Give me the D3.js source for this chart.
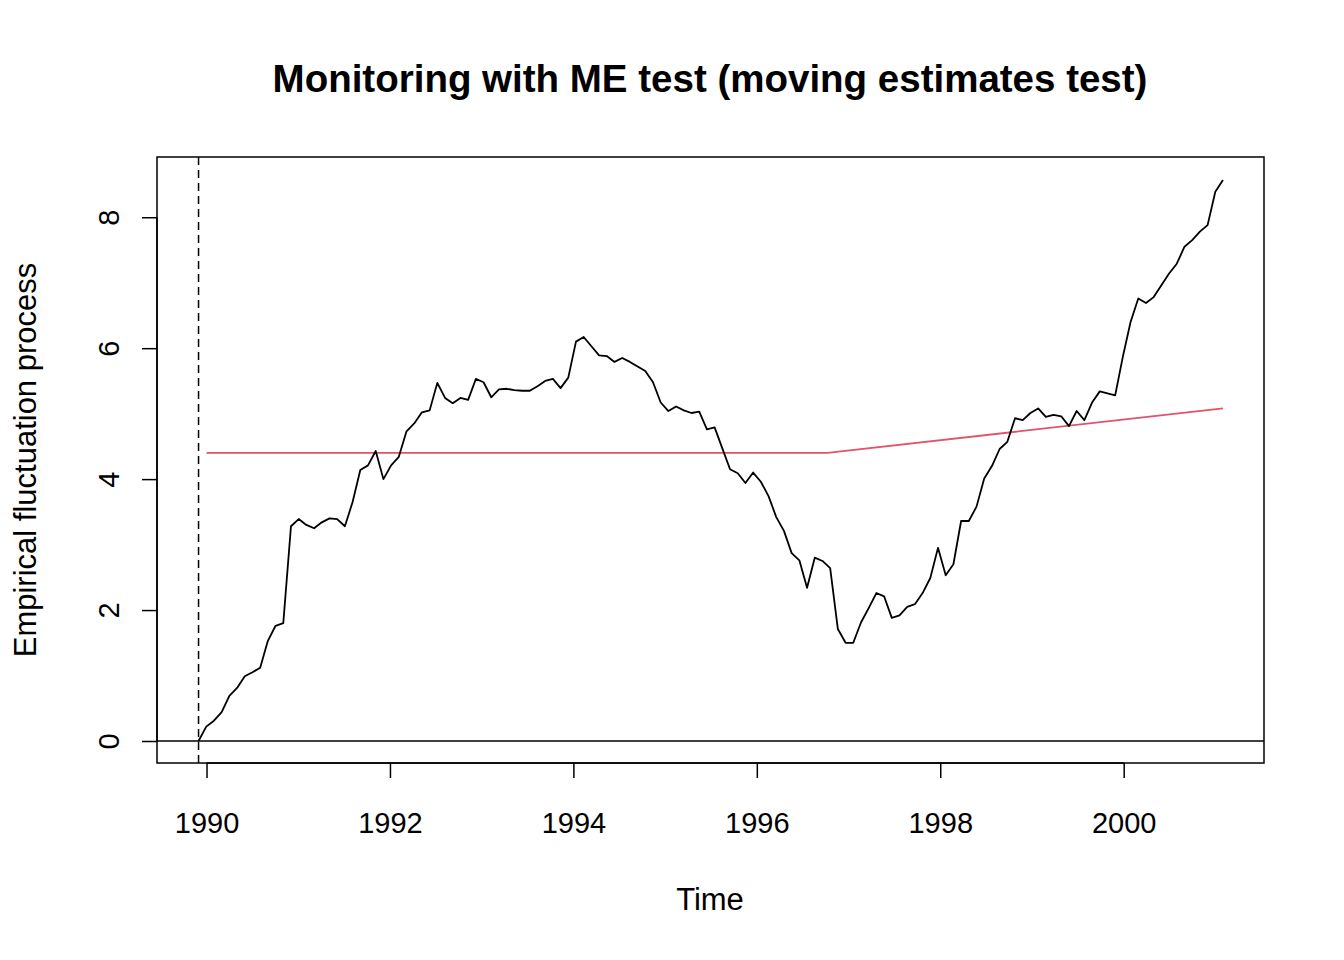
<!DOCTYPE html>
<html><head><meta charset="utf-8">
<script src="https://cdn.jsdelivr.net/npm/d3@7"></script>
<style>body{margin:0;background:#fff}text{font-family:"Liberation Sans",Arial,sans-serif}</style>
</head><body><svg id="c" width="1344" height="960"></svg>
<script>
// empirical fluctuation process, 134 observations from the monitoring start
var tStart = 1989.913, tEnd = 2001.083;
var process = [0.0,0.22,0.31,0.44,0.69,0.81,0.99,1.05,1.12,1.53,1.76,1.80,3.28,3.39,3.30,3.25,3.34,3.40,3.39,3.28,
  3.65,4.14,4.21,4.43,4.00,4.21,4.34,4.73,4.85,5.02,5.05,5.47,5.24,5.16,5.24,5.21,5.53,5.48,5.25,5.37,
  5.38,5.36,5.35,5.35,5.42,5.50,5.53,5.39,5.55,6.10,6.17,6.03,5.89,5.88,5.79,5.85,5.79,5.72,5.65,5.48,
  5.17,5.04,5.11,5.05,5.01,5.03,4.76,4.79,4.47,4.15,4.09,3.94,4.10,3.96,3.74,3.42,3.21,2.87,2.76,2.34,
  2.80,2.75,2.64,1.71,1.50,1.50,1.81,2.03,2.26,2.21,1.88,1.92,2.05,2.09,2.26,2.49,2.95,2.53,2.70,3.36,
  3.36,3.58,4.01,4.20,4.46,4.57,4.93,4.90,5.01,5.08,4.95,4.98,4.96,4.81,5.04,4.90,5.17,5.34,5.31,5.28,
  5.87,6.40,6.76,6.69,6.78,6.96,7.14,7.29,7.55,7.65,7.78,7.88,8.39,8.57];
// boundary knots
var boundaryT = [1990.0, 1996.77, 2001.083];
var boundaryV = [4.40, 4.40, 5.08];
var xTicks = [1990, 1992, 1994, 1996, 1998, 2000];
var yTicks = [0, 2, 4, 6, 8];

var L = 157, R = 1264, T = 157, B = 763;
var svg = d3.select('#c');
var x = d3.scaleLinear().domain([1989.46, 2001.53]).range([L, R]);
var y = d3.scaleLinear().domain([-0.336, 8.92]).range([B, T]);

var step = (tEnd - tStart) / (process.length - 1);
var pts = process.map(function(v, i) { return [tStart + i * step, v]; });

// zero line and start marker
svg.append('line').attr('x1', L).attr('x2', R).attr('y1', y(0)).attr('y2', y(0))
  .attr('stroke', '#000').attr('stroke-width', 1.5);
svg.append('line').attr('x1', x(tStart)).attr('x2', x(tStart)).attr('y1', T).attr('y2', B)
  .attr('stroke', '#000').attr('stroke-width', 1.5).attr('stroke-dasharray', '8,5');

var line = d3.line().x(function(d) { return x(d[0]); }).y(function(d) { return y(d[1]); });
svg.append('path').datum(boundaryT.map(function(t, i) { return [t, boundaryV[i]]; }))
  .attr('d', line).attr('fill', 'none').attr('stroke', '#df536b').attr('stroke-width', 1.8);
svg.append('path').datum(pts).attr('d', line).attr('fill', 'none')
  .attr('stroke', '#000').attr('stroke-width', 1.8).attr('stroke-linejoin', 'round');

svg.append('rect').attr('x', L).attr('y', T).attr('width', R - L).attr('height', B - T)
  .attr('fill', 'none').attr('stroke', '#000').attr('stroke-width', 1.5);

// axes
var xa = svg.append('g').attr('transform', 'translate(0,' + B + ')')
  .call(d3.axisBottom(x).tickValues(xTicks).tickFormat(d3.format('d')).tickSize(15).tickPadding(34));
var ya = svg.append('g').attr('transform', 'translate(' + L + ',0)')
  .call(d3.axisLeft(y).tickValues(yTicks).tickSize(15));
[xa, ya].forEach(function(a) {
  a.select('.domain').remove();
  a.selectAll('line').attr('stroke-width', 1.5);
  a.selectAll('text').style('font-size', '29px').attr('fill', '#000');
});
svg.append('line').attr('x1', x(1990)).attr('x2', x(2000)).attr('y1', B).attr('y2', B).attr('stroke', '#000').attr('stroke-width', 1.5);
svg.append('line').attr('x1', L).attr('x2', L).attr('y1', y(0)).attr('y2', y(8)).attr('stroke', '#000').attr('stroke-width', 1.5);
ya.selectAll('text').attr('x', -48).attr('y', 0).attr('dy', '0.35em').attr('text-anchor', 'middle')
  .attr('transform', 'rotate(-90,-48,0)');

svg.append('text').attr('x', 710).attr('y', 92).attr('text-anchor', 'middle')
  .style('font-size', '38.5px').style('font-weight', 'bold').text('Monitoring with ME test (moving estimates test)');
svg.append('text').attr('x', 710).attr('y', 910).attr('text-anchor', 'middle')
  .style('font-size', '31px').text('Time');
svg.append('text').attr('transform', 'translate(36,460) rotate(-90)').attr('text-anchor', 'middle')
  .style('font-size', '31px').text('Empirical fluctuation process');
</script></body></html>
